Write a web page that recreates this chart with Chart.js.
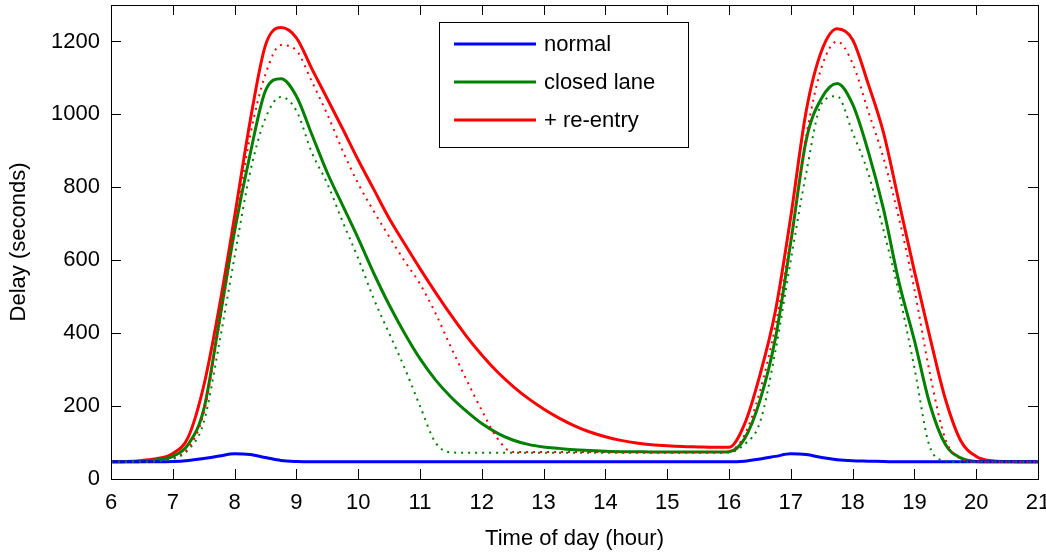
<!DOCTYPE html>
<html>
<head>
<meta charset="utf-8">
<script src="https://cdn.jsdelivr.net/npm/chart.js@4.4.0/dist/chart.umd.min.js"></script>
<style>
  html, body { margin: 0; padding: 0; background: #fff; }
</style>
</head>
<body>
<canvas id="chart" width="1046" height="552"></canvas>
<script>
// Sample times (hour of day), one every 15 minutes
const hours = [
    6, 6.25, 6.5, 6.75, 7, 7.25, 7.5, 7.75, 8, 8.25, 8.5, 8.75,
    9, 9.25, 9.5, 9.75, 10, 10.25, 10.5, 10.75, 11, 11.25, 11.5, 11.75,
    12, 12.25, 12.5, 12.75, 13, 13.25, 13.5, 13.75, 14, 14.25, 14.5, 14.75,
    15, 15.25, 15.5, 15.75, 16, 16.25, 16.5, 16.75, 17, 17.25, 17.5, 17.75,
    18, 18.25, 18.5, 18.75, 19, 19.25, 19.5, 19.75, 20, 20.25, 20.5, 20.75, 21
];

// Delay (seconds), simulated
const normal = [
    47, 47, 47, 47, 48, 51, 56, 63, 69, 67, 59, 51,
    48, 47, 47, 47, 47, 47, 47, 47, 47, 47, 47, 47,
    47, 47, 47, 47, 47, 47, 47, 47, 47, 47, 47, 47,
    47, 47, 47, 47, 47, 49, 55, 62, 69, 67, 59, 53,
    50, 49, 48, 47, 47, 47, 47, 47, 47, 47, 47, 47, 47
];
const closedLane = [
    47, 47, 48, 53, 62, 95, 190, 430, 680, 890, 1065, 1098,
    1050, 945, 840, 750, 660, 565, 478, 400, 330, 272, 225, 186,
    152, 126, 107, 95, 88, 84, 80, 78, 76, 75, 75, 74,
    74, 74, 74, 74, 75, 110, 215, 385, 650, 930, 1045, 1085,
    1028, 900, 740, 540, 380, 205, 95, 58, 48, 47, 47, 47, 47
];
const reEntry = [
    47, 48, 51, 56, 70, 115, 255, 470, 720, 980, 1190, 1238,
    1210, 1125, 1043, 960, 875, 795, 715, 645, 577, 512, 450, 392,
    340, 294, 255, 221, 192, 167, 146, 129, 116, 106, 99, 94,
    91, 89, 88, 87, 87, 150, 285, 460, 720, 1010, 1175, 1235,
    1205, 1085, 950, 760, 570, 390, 220, 105, 62, 50, 48, 47, 47
];

// Delay (seconds), model (dotted)
const closedLaneModel = [
    47, 47, 47, 49, 55, 80, 155, 370, 610, 840, 990, 1048,
    1010, 895, 810, 705, 605, 495, 400, 305, 200, 100, 73, 72,
    72, 72, 72, 72, 72, 72, 72, 72, 72, 72, 72, 72,
    72, 72, 72, 72, 73, 95, 155, 350, 600, 840, 1030, 1050,
    950, 840, 682, 510, 305, 88, 50, 47, 47, 47, 47, 47, 47
];
const reEntryModel = [
    47, 47, 47, 49, 57, 85, 180, 420, 680, 940, 1110, 1190,
    1175, 1090, 1000, 900, 810, 735, 665, 598, 535, 455, 362, 273,
    188, 112, 74, 74, 74, 74, 74, 74, 74, 74, 74, 74,
    74, 74, 74, 74, 76, 120, 240, 420, 660, 940, 1130, 1200,
    1140, 1010, 880, 715, 520, 290, 110, 55, 47, 47, 47, 47, 47
];

const xTicks = [6, 7, 8, 9, 10, 11, 12, 13, 14, 15, 16, 17, 18, 19, 20, 21];
const yTicks = [0, 200, 400, 600, 800, 1000, 1200];

const FONT = '"Liberation Sans", Arial, sans-serif';

function toPoints(values) {
    return values.map((v, i) => ({ x: hours[i], y: v }));
}

// Box around the axes with inward ticks on all four sides
const axesFrame = {
    id: 'axesFrame',
    afterDraw(chart) {
        const ctx = chart.ctx;
        const a = chart.chartArea;
        const xs = chart.scales.x;
        const ys = chart.scales.y;
        const len = 10;
        ctx.save();
        ctx.strokeStyle = '#000';
        ctx.lineWidth = 1;
        ctx.beginPath();
        xTicks.forEach(t => {
            const px = Math.round(xs.getPixelForValue(t)) + 0.5;
            ctx.moveTo(px, a.bottom);
            ctx.lineTo(px, a.bottom - len);
            ctx.moveTo(px, a.top);
            ctx.lineTo(px, a.top + len);
        });
        yTicks.forEach(t => {
            const py = Math.round(ys.getPixelForValue(t)) + 0.5;
            ctx.moveTo(a.left, py);
            ctx.lineTo(a.left + len, py);
            ctx.moveTo(a.right, py);
            ctx.lineTo(a.right - len, py);
        });
        ctx.stroke();
        ctx.strokeRect(Math.round(a.left) + 0.5, Math.round(a.top) + 0.5,
            Math.round(a.right - a.left), Math.round(a.bottom - a.top));
        ctx.restore();
    }
};

// Legend box inside the plot, only for the solid series
const legendBox = {
    id: 'legendBox',
    afterDraw(chart) {
        const ctx = chart.ctx;
        const items = chart.data.datasets.filter(d => d.inLegend);
        const left = 439, top = 22, width = 249, rowH = 38;
        ctx.save();
        ctx.fillStyle = '#fff';
        ctx.fillRect(left, top, width, 125);
        ctx.strokeStyle = '#000';
        ctx.lineWidth = 1;
        ctx.strokeRect(left + 0.5, top + 0.5, width, 125);
        ctx.font = '22px ' + FONT;
        ctx.textBaseline = 'middle';
        items.forEach((d, i) => {
            const y = top + 22 + i * rowH;
            ctx.strokeStyle = d.borderColor;
            ctx.lineWidth = 3;
            ctx.beginPath();
            ctx.moveTo(left + 15, y);
            ctx.lineTo(left + 97, y);
            ctx.stroke();
            ctx.fillStyle = '#000';
            ctx.fillText(d.label, left + 105, y + 1);
        });
        ctx.restore();
    }
};

function solid(label, values, color) {
    return {
        label: label,
        data: toPoints(values),
        borderColor: color,
        borderWidth: 3,
        pointRadius: 0,
        cubicInterpolationMode: 'monotone',
        fill: false,
        inLegend: true
    };
}

function dotted(label, values, color) {
    return {
        label: label,
        data: toPoints(values),
        borderColor: color,
        borderWidth: 2,
        borderDash: [2, 5],
        borderCapStyle: 'butt',
        pointRadius: 0,
        cubicInterpolationMode: 'monotone',
        fill: false,
        inLegend: false
    };
}

const ctx = document.getElementById('chart').getContext('2d');

new Chart(ctx, {
    type: 'line',
    data: {
        datasets: [
            dotted('closed lane model', closedLaneModel, '#008000'),
            dotted('re-entry model', reEntryModel, '#ff0000'),
            solid('normal', normal, '#0000ff'),
            solid('closed lane', closedLane, '#008000'),
            solid('+ re-entry', reEntry, '#ff0000')
        ]
    },
    options: {
        responsive: false,
        animation: false,
        layout: {
            padding: { left: 6, right: 8, top: 5, bottom: 0 }
        },
        plugins: {
            legend: { display: false },
            tooltip: { enabled: false }
        },
        scales: {
            x: {
                type: 'linear',
                min: 6,
                max: 21,
                afterBuildTicks: scale => { scale.ticks = xTicks.map(v => ({ value: v })); },
                afterFit: scale => {
                    scale.height = 73;
                    scale.paddingLeft = 0;
                    scale.paddingRight = 0;
                },
                grid: { display: false, drawTicks: false },
                border: { display: false },
                ticks: {
                    color: '#000',
                    padding: 11,
                    maxRotation: 0,
                    font: { family: FONT, size: 22 }
                },
                title: {
                    display: true,
                    text: 'Time of day (hour)',
                    color: '#000',
                    padding: { top: 0, bottom: 0 },
                    font: { family: FONT, size: 22 }
                }
            },
            y: {
                min: 0,
                max: 1300,
                afterBuildTicks: scale => { scale.ticks = yTicks.map(v => ({ value: v })); },
                afterFit: scale => {
                    scale.width = 105;
                    scale.paddingTop = 0;
                    scale.paddingBottom = 0;
                },
                grid: { display: false, drawTicks: false },
                border: { display: false },
                ticks: {
                    color: '#000',
                    padding: 11,
                    callback: v => String(v),
                    font: { family: FONT, size: 22 }
                },
                title: {
                    display: true,
                    text: 'Delay (seconds)',
                    color: '#000',
                    padding: { top: 0, bottom: 4 },
                    font: { family: FONT, size: 22 }
                }
            }
        }
    },
    plugins: [axesFrame, legendBox]
});
</script>
</body>
</html>
